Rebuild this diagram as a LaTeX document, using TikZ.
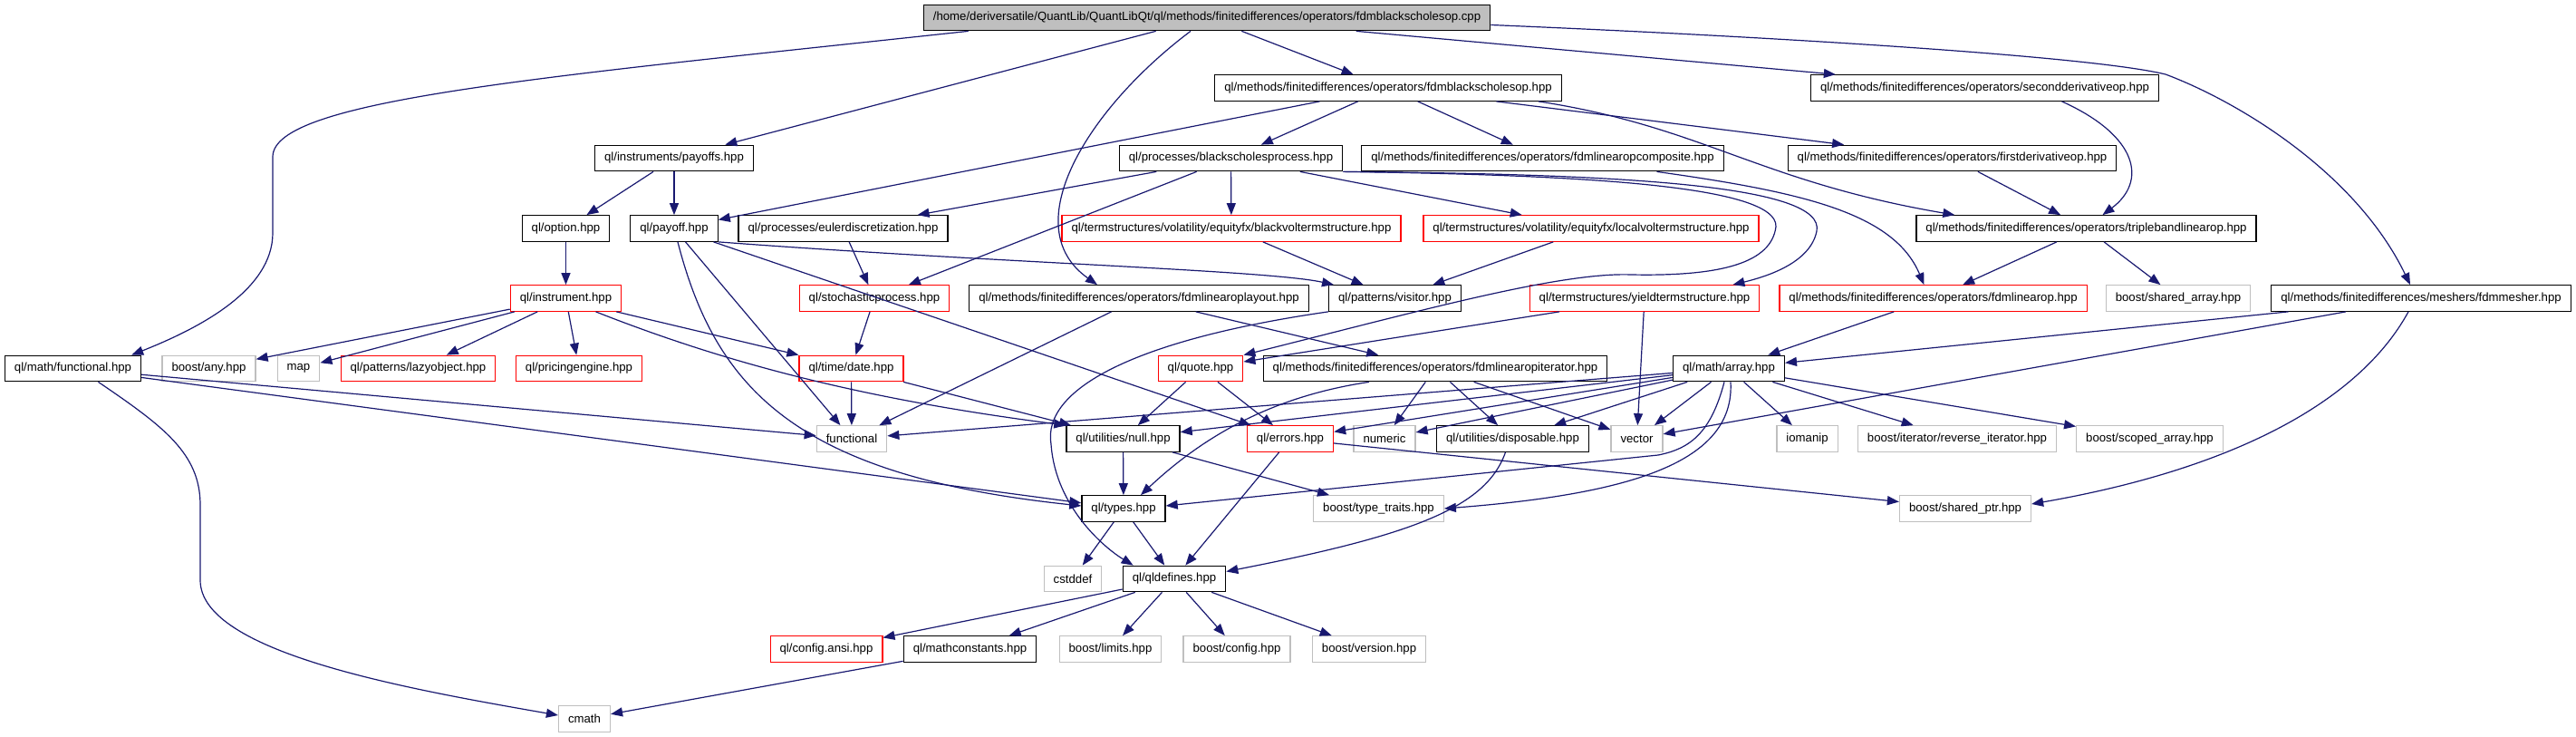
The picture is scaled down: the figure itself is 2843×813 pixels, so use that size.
\documentclass[tikz,border=0pt]{standalone}
\usepackage{fontspec}
\setmainfont{Liberation Sans}
\usetikzlibrary{arrows.meta}

\definecolor{dxedge}{RGB}{25, 25, 112}
\definecolor{dxgray}{RGB}{191, 191, 191}
\definecolor{dxred}{RGB}{255, 0, 0}

\tikzset{
  file/.style={draw=black, line width=1.25pt, minimum height=28.5pt, inner xsep=10.5pt, inner ysep=0pt, font=\fontsize{13.2}{15}\selectfont},
  extfile/.style={file, draw=dxgray},
  cutfile/.style={file, draw=dxred},
  dep/.style={draw=dxedge, line width=1.2pt, -{Triangle[length=13pt, width=10pt]}}
}

\begin{document}
\begin{tikzpicture}[x=1pt, y=-1pt]
        \useasboundingbox (0,0) rectangle (2843,813);
        % files, row by row
        \node[file, fill=dxgray] (root) at (1332,19.5) {/home/deriversatile/QuantLib/QuantLibQt/ql/methods/finitedifferences/operators/fdmblackscholesop.cpp};
        \node[file] (fdmbsop) at (1532,97) {ql/methods/finitedifferences/operators/fdmblackscholesop.hpp};
        \node[file] (secderiv) at (2190.5,97) {ql/methods/finitedifferences/operators/secondderivativeop.hpp};
        \node[file] (payoffs) at (744,174.5) {ql/instruments/payoffs.hpp};
        \node[file] (bsproc) at (1358.5,174.5) {ql/processes/blackscholesprocess.hpp};
        \node[file] (composite) at (1702.5,174.5) {ql/methods/finitedifferences/operators/fdmlinearopcomposite.hpp};
        \node[file] (firstderiv) at (2154.5,174.5) {ql/methods/finitedifferences/operators/firstderivativeop.hpp};
        \node[file] (option) at (624.5,252) {ql/option.hpp};
        \node[file] (payoff) at (744,252) {ql/payoff.hpp};
        \node[file] (euler) at (930.5,252) {ql/processes/eulerdiscretization.hpp};
        \node[cutfile] (blackvol) at (1359,252) {ql/termstructures/volatility/equityfx/blackvoltermstructure.hpp};
        \node[cutfile] (localvol) at (1756,252) {ql/termstructures/volatility/equityfx/localvoltermstructure.hpp};
        \node[file] (tripleband) at (2302.5,252) {ql/methods/finitedifferences/operators/triplebandlinearop.hpp};
        \node[cutfile] (instrument) at (624.5,329) {ql/instrument.hpp};
        \node[cutfile] (stochproc) at (965,329) {ql/stochasticprocess.hpp};
        \node[file] (layout) at (1257,329) {ql/methods/finitedifferences/operators/fdmlinearoplayout.hpp};
        \node[file] (visitor) at (1539.5,329) {ql/patterns/visitor.hpp};
        \node[cutfile] (yieldts) at (1815,329) {ql/termstructures/yieldtermstructure.hpp};
        \node[cutfile] (fdmlinop) at (2133.5,329) {ql/methods/finitedifferences/operators/fdmlinearop.hpp};
        \node[extfile] (sharedarr) at (2404,329) {boost/shared\_array.hpp};
        \node[file] (fdmmesher) at (2672,329) {ql/methods/finitedifferences/meshers/fdmmesher.hpp};
        \node[file] (mathfunc) at (80.5,406.5) {ql/math/functional.hpp};
        \node[extfile] (anyhpp) at (230.5,406.5) {boost/any.hpp};
        \node[extfile] (map) at (329.5,406.5) {map};
        \node[cutfile] (lazyobj) at (461.5,406.5) {ql/patterns/lazyobject.hpp};
        \node[cutfile] (pricing) at (639,406.5) {ql/pricingengine.hpp};
        \node[cutfile] (date) at (939.5,406.5) {ql/time/date.hpp};
        \node[cutfile] (quote) at (1325,406.5) {ql/quote.hpp};
        \node[file] (iterator) at (1584,406.5) {ql/methods/finitedifferences/operators/fdmlinearopiterator.hpp};
        \node[file] (array) at (1908,406.5) {ql/math/array.hpp};
        \node[extfile] (functional) at (940,484) {functional};
        \node[file] (null) at (1239.5,484) {ql/utilities/null.hpp};
        \node[cutfile] (errors) at (1424,484) {ql/errors.hpp};
        \node[extfile] (numeric) at (1528,484) {numeric};
        \node[file] (disposable) at (1669.5,484) {ql/utilities/disposable.hpp};
        \node[extfile] (vector) at (1806.5,484) {vector};
        \node[extfile] (iomanip) at (1994.5,484) {iomanip};
        \node[extfile] (reviter) at (2160,484) {boost/iterator/reverse\_iterator.hpp};
        \node[extfile] (scopedarr) at (2372.5,484) {boost/scoped\_array.hpp};
        \node[file] (types) at (1240,561) {ql/types.hpp};
        \node[extfile] (typetraits) at (1521.5,561) {boost/type\_traits.hpp};
        \node[extfile] (sharedptr) at (2169,561) {boost/shared\_ptr.hpp};
        \node[extfile] (cstddef) at (1184,638.5) {cstddef};
        \node[file] (qldefines) at (1296,638.5) {ql/qldefines.hpp};
        \node[cutfile] (configansi) at (912,716) {ql/config.ansi.hpp};
        \node[file] (mathconst) at (1070.5,716) {ql/mathconstants.hpp};
        \node[extfile] (limits) at (1225.5,716) {boost/limits.hpp};
        \node[extfile] (config) at (1365,716) {boost/config.hpp};
        \node[extfile] (version) at (1511,716) {boost/version.hpp};
        \node[extfile] (cmath) at (645,793) {cmath};
        % straight includes
        \draw[dep] (root) -- (payoffs);
        \draw[dep] (root) -- (fdmbsop);
        \draw[dep] (root) -- (secderiv);
        \draw[dep] (fdmbsop) -- (payoff);
        \draw[dep] (fdmbsop) -- (bsproc);
        \draw[dep] (fdmbsop) -- (composite);
        \draw[dep] (fdmbsop) -- (firstderiv);
        \draw[dep] (firstderiv) -- (tripleband);
        \draw[dep] (payoffs) -- (option);
        \draw[dep] (payoffs) -- (payoff);
        \draw[dep] (option) -- (instrument);
        \draw[dep] (payoff) -- (functional);
        \draw[dep] (payoff) -- (errors);
        \draw[dep] (bsproc) -- (euler);
        \draw[dep] (bsproc) -- (stochproc);
        \draw[dep] (bsproc) -- (blackvol);
        \draw[dep] (bsproc) -- (localvol);
        \draw[dep] (euler) -- (stochproc);
        \draw[dep] (blackvol) -- (visitor);
        \draw[dep] (localvol) -- (visitor);
        \draw[dep] (tripleband) -- (fdmlinop);
        \draw[dep] (tripleband) -- (sharedarr);
        \draw[dep] (instrument) -- (anyhpp);
        \draw[dep] (instrument) -- (map);
        \draw[dep] (instrument) -- (lazyobj);
        \draw[dep] (instrument) -- (pricing);
        \draw[dep] ([xshift=-6pt]instrument.south east) -- (date.north west);
        \draw[dep] (stochproc) -- (date);
        \draw[dep] (layout) -- (functional);
        \draw[dep] (layout) -- (iterator);
        \draw[dep] (yieldts) -- (quote);
        \draw[dep] (yieldts) -- (vector);
        \draw[dep] (fdmlinop) -- (array);
        \draw[dep] (fdmmesher) -- (array);
        \draw[dep] (fdmmesher) -- (vector);
        \draw[dep] (mathfunc) -- (functional);
        \draw[dep] (mathfunc) -- (types);
        \draw[dep] (date) -- (functional);
        \draw[dep] (date) -- (null);
        \draw[dep] (quote) -- (null);
        \draw[dep] (quote) -- (errors);
        \draw[dep] (iterator) -- (numeric);
        \draw[dep] (iterator) -- (disposable);
        \draw[dep] (iterator) -- (vector);
        \draw[dep] (array) -- (functional);
        \draw[dep] (array) -- (null);
        \draw[dep] (array) -- (errors);
        \draw[dep] (array) -- (numeric);
        \draw[dep] (array) -- (disposable);
        \draw[dep] (array) -- (vector);
        \draw[dep] (array) -- (iomanip);
        \draw[dep] (array) -- (reviter);
        \draw[dep] (array) -- (scopedarr);
        \draw[dep] (null) -- (types);
        \draw[dep] (null) -- (typetraits);
        \draw[dep] (errors) -- (qldefines);
        \draw[dep] (errors) -- (sharedptr);
        \draw[dep] (types) -- (cstddef);
        \draw[dep] (types) -- (qldefines);
        \draw[dep] (qldefines) -- (configansi);
        \draw[dep] (qldefines) -- (mathconst);
        \draw[dep] (qldefines) -- (limits);
        \draw[dep] (qldefines) -- (config);
        \draw[dep] (qldefines) -- (version);
        \draw[dep] (mathconst) -- (cmath);
        % bent includes
        \draw[dep] ([xshift=50pt]root.south west) .. controls (600,85) and (301,110) .. (301,173) -- (301,257) .. controls (301,320) and (220,362) .. ([xshift=-11pt]mathfunc.north east);
        \draw[dep] ([xshift=-18pt]root.south) .. controls (1200,120) and (1120,250) .. ([xshift=-46pt]layout.north);
        \draw[dep] ([yshift=-8pt]root.east) .. controls (1900,38) and (2300,60) .. (2390,82) .. controls (2470,112) and (2600,190) .. ([xshift=-12pt]fdmmesher.north);
        \draw[dep] ([xshift=166pt]fdmbsop.south) .. controls (1880,140) and (1940,200) .. ([xshift=43pt]tripleband.north west);
        \draw[dep] ([xshift=85pt]secderiv.south) .. controls (2360,150) and (2370,200) .. ([xshift=18pt]tripleband.north);
        \draw[dep] (bsproc.south east) .. controls (1800,192) and (2015,205) .. (2005,255) .. controls (1998,290) and (1950,305) .. ([xshift=-30pt]yieldts.north east);
        \draw[dep] (bsproc.south east) .. controls (1750,193) and (1962,205) .. (1960,250) .. controls (1955,290) and (1900,305) .. (1800,303) .. controls (1720,300) and (1560,345) .. (quote.north east);
        \draw[dep] ([xshift=126pt]composite.south) .. controls (1990,212) and (2090,235) .. ([xshift=-10pt]fdmlinop.north);
        \draw[dep] (payoff.south east) .. controls (1100,290) and (1400,298) .. ([xshift=6pt]visitor.north west);
        \draw[dep] ([xshift=4pt]payoff.south) .. controls (790,430) and (880,525) .. ([yshift=3pt]types.west);
        \draw[dep] ([xshift=33pt]instrument.south) .. controls (800,400) and (950,440) .. (null.north west);
        \draw[dep] (visitor.south west) .. controls (1250,375) and (1150,430) .. (1160,490) .. controls (1165,560) and (1220,605) .. ([xshift=12pt]qldefines.north west);
        \draw[dep] ([xshift=-73pt]iterator.south) .. controls (1420,435) and (1340,470) .. ([xshift=19pt]types.north);
        \draw[dep] ([xshift=-5pt]array.south) .. controls (1888,478) and (1865,495) .. (1830,502) -- ([yshift=3pt]types.east);
        \draw[dep] ([xshift=2pt]array.south) .. controls (1915,510) and (1800,545) .. (typetraits.east);
        \draw[dep] ([xshift=-8pt]disposable.south) .. controls (1640,560) and (1560,590) .. ([yshift=8pt]qldefines.east);
        \draw[dep] ([xshift=-14pt]fdmmesher.south) .. controls (2600,450) and (2450,520) .. ([yshift=5pt]sharedptr.east);
        \draw[dep] ([xshift=28pt]mathfunc.south) .. controls (180,470) and (221,500) .. (221,557) -- (221,640) .. controls (221,720) and (450,760) .. ([yshift=4pt]cmath.west);
      \end{tikzpicture}
\end{document}
